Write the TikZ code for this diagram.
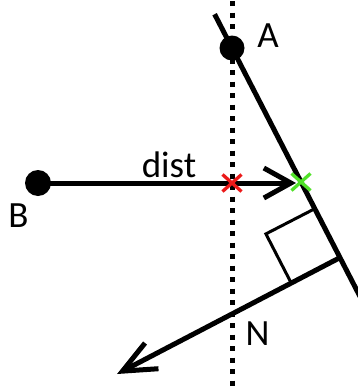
\documentclass[tikz,border=0pt]{standalone}
\usepackage{fontspec}
\setmainfont{Carlito}
\usetikzlibrary{arrows.meta,calc}
\begin{document}
\begin{tikzpicture}[x=1pt,y=-1pt,
  mainline/.style={line width=5pt},
  dotline/.style={line width=5pt, dash pattern=on 5pt off 6.5pt},
  thinline/.style={line width=3pt},
  dotpt/.style={circle, fill=black, inner sep=0pt},
  lbl/.style={font=\fontsize{37}{40}\selectfont, inner sep=0pt, anchor=base},
  xmark/.style={line width=3.3pt}
]
\useasboundingbox (0,0) rectangle (357,389);
\definecolor{xred}{RGB}{235,25,25}
\definecolor{xgreen}{RGB}{80,225,40}
% coordinates
\coordinate (dtop) at (232,1);
\coordinate (dbot) at (232,386);
\coordinate (T) at (214.6,14.2);
\coordinate (E) at (360,296.5);
\coordinate (F) at (340,257.6);
\coordinate (Ntip) at (117,374);
\coordinate (P1) at (291.1,282.8);
\coordinate (P2) at (265.9,233.9);
\coordinate (P3) at (314.8,208.7);
\coordinate (Htip) at (296,183);
\coordinate (R) at (232,183);
\coordinate (G) at (301,182);
% dotted vertical line
\draw[dotline] (dtop) -- (dbot);
% line through A
\draw[mainline] (T) -- (E);
% right-angle square
\draw[thinline] (P1) -- (P2) -- (P3);
% normal arrow
\draw[mainline, -{Straight Barb[length=33pt,width=29pt]}] (F) -- (Ntip);
% points
\node[dotpt, minimum size=25pt] (A) at (232,48) {};
\node[dotpt, minimum size=26pt] (B) at (38,183) {};
% horizontal arrow
\draw[mainline, -{Straight Barb[length=27pt,width=30pt]}] (B.center) -- (Htip);
% crosses
\draw[xmark, xred] ($(R)+(-9.5,-8.5)$) -- ($(R)+(9.5,8.5)$) ($(R)+(-9.5,8.5)$) -- ($(R)+(9.5,-8.5)$);
\draw[xmark, xgreen] ($(G)+(-9.5,-8.5)$) -- ($(G)+(9.5,8.5)$) ($(G)+(-9.5,8.5)$) -- ($(G)+(9.5,-8.5)$);
% labels
\node[lbl] (lA) at (268,47) {A};
\node[lbl] (lB) at (18.5,227) {B};
\node[lbl] (lN) at (257.5,345) {N};
\node[lbl] (ld) at (169,177) {dist};
\end{tikzpicture}
\end{document}
